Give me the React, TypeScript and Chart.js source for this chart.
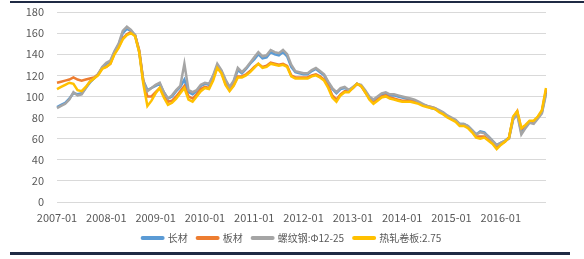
import React, { useEffect, useRef } from "react";
import { Chart, registerables } from "chart.js";

Chart.register(...registerables);

const years = [2007, 2008, 2009, 2010, 2011, 2012, 2013, 2014, 2015, 2016];
const months = ["01", "02", "03", "04", "05", "06", "07", "08", "09", "10", "11", "12"];
const categories: string[] = years.flatMap((y) => months.map((m) => `${y}-${m}`));

const yTicks = [0, 20, 40, 60, 80, 100, 120, 140, 160, 180];

// 长材
const changcai = [
  90, 92, 94, 98, 103, 102, 103, 108, 113, 117, 121, 127,
  131, 133, 142, 149, 160, 164, 162, 158, 143, 115, 106, 108,
  110, 112, 104, 98, 100, 105, 109, 116, 104, 102, 105, 110,
  112, 111, 119, 129, 124, 115, 108, 114, 125, 122, 126, 131,
  135, 140, 136, 137, 142, 140, 139, 142, 138, 128, 123, 122,
  121, 121, 124, 126, 123, 120, 113, 107, 103, 107, 108, 106,
  108, 112, 110, 105, 99, 96, 99, 102, 103, 101, 101, 100,
  99, 98, 97, 96, 94, 92, 91, 89, 88, 86, 84, 81,
  79, 77, 74, 74, 72, 68, 64, 67, 66, 62, 58, 54,
  56, 58, 61, 79, 84, 66, 71, 76, 75, 80, 85, 104,
];

// 板材
const bancai = [
  113, 114, 115, 116, 118, 116, 115, 116, 117, 118, 121, 127,
  128, 131, 141, 147, 155, 159, 161, 158, 144, 115, 100, 100,
  104, 108, 101, 95, 96, 100, 105, 110, 100, 98, 102, 107,
  109, 108, 117, 128, 123, 112, 106, 111, 119, 119, 121, 124,
  128, 131, 128, 129, 132, 131, 130, 131, 129, 120, 118, 118,
  118, 118, 120, 121, 119, 116, 110, 101, 97, 102, 105, 105,
  108, 112, 110, 104, 98, 94, 97, 100, 101, 99, 98, 97,
  96, 96, 96, 95, 94, 92, 91, 90, 89, 86, 84, 81,
  79, 77, 73, 73, 71, 67, 62, 62, 62, 59, 56, 52,
  55, 57, 61, 80, 86, 69, 72, 76, 76, 80, 86, 106,
];

// 螺纹钢:Φ12-25
const luowengang = [
  89, 91, 93, 97, 104, 101, 102, 108, 114, 117, 121, 128,
  132, 134, 143, 150, 162, 166, 163, 158, 142, 114, 105, 108,
  111, 113, 104, 98, 101, 106, 110, 131, 106, 104, 106, 111,
  113, 112, 120, 131, 125, 116, 109, 115, 127, 123, 127, 132,
  137, 142, 138, 139, 144, 142, 141, 144, 140, 130, 124, 123,
  122, 122, 125, 127, 124, 121, 114, 108, 104, 108, 109, 106,
  109, 112, 111, 106, 100, 97, 100, 103, 104, 102, 102, 101,
  100, 99, 98, 97, 95, 93, 91, 90, 89, 87, 85, 82,
  80, 78, 74, 74, 72, 68, 64, 66, 65, 62, 58, 54,
  56, 58, 60, 78, 83, 64, 70, 75, 74, 79, 84, 102,
];

// 热轧卷板:2.75
const rezha = [
  107, 109, 111, 113, 112, 106, 105, 109, 114, 117, 120, 126,
  128, 131, 140, 146, 154, 158, 160, 157, 142, 112, 91, 96,
  103, 108, 99, 92, 94, 98, 103, 108, 97, 95, 100, 105,
  108, 107, 115, 127, 122, 111, 105, 110, 118, 118, 120, 123,
  127, 131, 127, 128, 131, 130, 129, 130, 128, 119, 117, 117,
  117, 117, 119, 120, 118, 115, 108, 99, 95, 101, 104, 104,
  108, 112, 110, 104, 97, 93, 96, 99, 100, 98, 97, 96,
  95, 95, 95, 94, 93, 91, 90, 89, 88, 85, 83, 80,
  78, 76, 72, 72, 70, 66, 61, 60, 61, 58, 55, 50,
  54, 57, 61, 81, 86, 70, 73, 77, 77, 81, 87, 108,
];

const seriesNames = ["长材", "板材", "螺纹钢:Φ12-25", "热轧卷板:2.75"];
const seriesColors = ["#5B9BD5", "#ED7D31", "#A5A5A5", "#FFC000"];

const FONT = "'Noto Sans CJK SC', 'Noto Sans', sans-serif";

export default function App() {
  const canvasRef = useRef<HTMLCanvasElement | null>(null);

  useEffect(() => {
    if (!canvasRef.current) return;
    const values = [changcai, bancai, luowengang, rezha];
    const drawOrder = [3, 2, 1, 0];
    const defaultGen = (Chart as any).defaults.plugins.legend.labels.generateLabels;
    const chart = new Chart(canvasRef.current, {
      type: "line",
      data: {
        labels: categories,
        datasets: values.map((v, i) => ({
          label: seriesNames[i],
          data: v,
          borderColor: seriesColors[i],
          backgroundColor: seriesColors[i],
          borderWidth: 2.5,
          pointRadius: 0,
          tension: 0,
          fill: false,
          order: drawOrder[i],
        })),
      },
      options: {
        animation: false,
        responsive: false,
        maintainAspectRatio: false,
        layout: { padding: { left: 0, right: 0, top: 12, bottom: 6 } },
        plugins: {
          legend: {
            position: "bottom",
            labels: {
              usePointStyle: true,
              pointStyle: "line",
              pointStyleWidth: 20,
              padding: 10,
              color: "#595959",
              font: { family: FONT, size: 10 },
              sort: (a: any, b: any) => a.datasetIndex - b.datasetIndex,
              generateLabels: (c: any) =>
                defaultGen(c).map((item: any) => ({
                  ...item,
                  lineWidth: 4,
                  lineCap: "round",
                  strokeStyle: seriesColors[item.datasetIndex],
                  pointStyle: "line",
                })),
            },
          },
          tooltip: { enabled: false },
        },
        scales: {
          x: {
            type: "category",
            offset: false,
            afterFit: (scale: any) => {
              scale.height = 21;
              scale.paddingRight = 38;
            },
            grid: { display: false, drawTicks: false },
            border: { display: false },
            ticks: {
              autoSkip: false,
              maxRotation: 0,
              minRotation: 0,
              padding: 9,
              color: "#595959",
              font: { family: FONT, size: 11 },
              callback: (_v: any, idx: number) =>
                categories[idx].endsWith("-01") ? categories[idx] : "",
            },
          },
          y: {
            min: yTicks[0],
            max: yTicks[yTicks.length - 1],
            afterFit: (scale: any) => {
              scale.width = 57;
              scale.paddingTop = 0;
              scale.paddingBottom = 0;
            },
            afterBuildTicks: (scale: any) => {
              scale.ticks = yTicks.map((v) => ({ value: v }));
            },
            grid: { color: "#D9D9D9", lineWidth: 1, drawTicks: false },
            border: { display: false },
            ticks: {
              padding: 13,
              color: "#595959",
              font: { family: FONT, size: 11 },
            },
          },
        },
      },
    });
    return () => chart.destroy();
  }, []);

  return (
    <div
      style={{
        position: "absolute",
        left: 0,
        top: 0,
        width: 584,
        height: 259,
        background: "#fff",
        overflow: "hidden",
      }}
    >
      <div
        style={{
          position: "absolute",
          left: 10,
          top: 1,
          width: 574,
          height: 2,
          background: "#1F2A44",
        }}
      />
      <canvas
        ref={canvasRef}
        width={584}
        height={259}
        style={{ position: "absolute", left: 0, top: 0, width: 584, height: 259 }}
      />
      <div
        style={{
          position: "absolute",
          left: 10,
          top: 252,
          width: 560,
          height: 3,
          background: "#1F2A44",
        }}
      />
    </div>
  );
}
